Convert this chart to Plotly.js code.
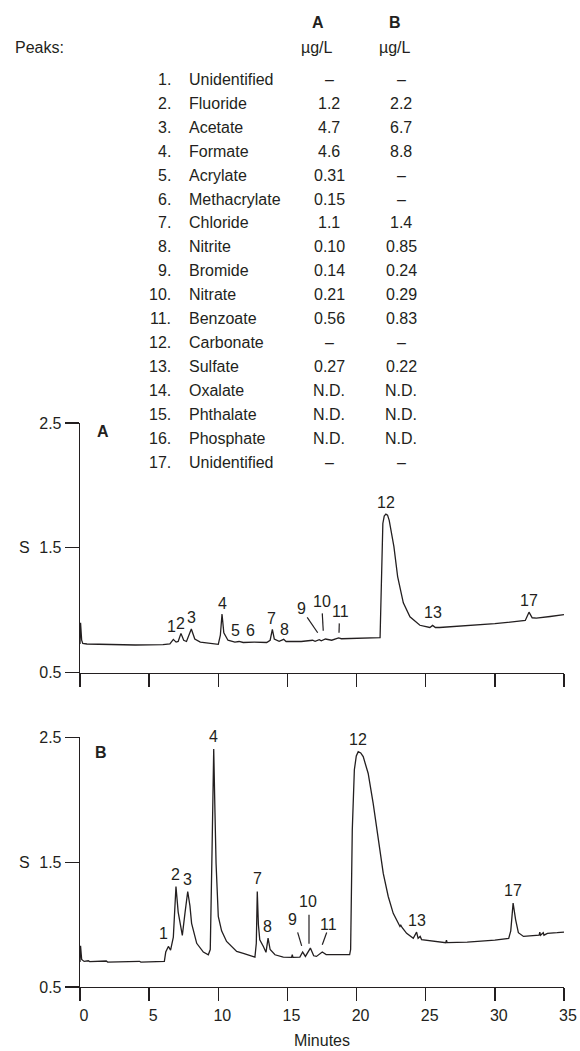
<!DOCTYPE html>
<html><head><meta charset="utf-8">
<script src="https://cdn.plot.ly/plotly-3.0.1.min.js"></script>
<style>html,body{margin:0;padding:0;background:#fff}</style>
</head><body><div id="chart" style="width:580px;height:1051px"></div>
<script>
// ---------- data ----------
const peakNumbers = ['1.','2.','3.','4.','5.','6.','7.','8.','9.','10.','11.','12.','13.','14.','15.','16.','17.'];
const peakNames = ['Unidentified','Fluoride','Acetate','Formate','Acrylate','Methacrylate','Chloride','Nitrite','Bromide','Nitrate','Benzoate','Carbonate','Sulfate','Oxalate','Phthalate','Phosphate','Unidentified'];
const amountsA = ['–','1.2','4.7','4.6','0.31','0.15','1.1','0.10','0.14','0.21','0.56','–','0.27','N.D.','N.D.','N.D.','–'];
const amountsB = ['–','2.2','6.7','8.8','–','–','1.4','0.85','0.24','0.29','0.83','–','0.22','N.D.','N.D.','N.D.','–'];

const timeA = [0.00,0.04,0.12,0.2,0.5,2,4,6,6.5,6.75,6.95,7.1,7.3,7.5,7.7,8.05,8.3,8.7,9.3,10.0,10.15,10.27,10.4,10.7,11.2,11.5,11.8,12.6,13.5,13.75,13.91,14.05,14.4,14.73,14.9,16.0,16.82,17.0,17.3,17.45,17.75,18.2,18.7,18.9,21.7,21.8,21.9,22.0,22.12,22.24,22.36,22.7,22.97,23.38,23.86,24.58,25.3,25.5,25.7,26,28,30,32.2,32.47,32.7,33,34,35];
const signalA = [0.73,0.90,0.76,0.735,0.73,0.725,0.722,0.725,0.73,0.767,0.745,0.75,0.815,0.76,0.75,0.85,0.77,0.745,0.735,0.727,0.80,0.97,0.82,0.76,0.745,0.75,0.742,0.745,0.742,0.76,0.847,0.77,0.752,0.767,0.75,0.75,0.76,0.752,0.765,0.755,0.77,0.76,0.778,0.772,0.78,1.2,1.695,1.755,1.77,1.762,1.72,1.51,1.27,1.06,0.948,0.88,0.862,0.879,0.862,0.862,0.875,0.893,0.918,0.985,0.94,0.937,0.95,0.965];

const timeB = [0,0.04,0.12,0.3,0.6,0.7,1.9,2.0,4.3,4.4,6.1,6.2,6.39,6.55,6.75,6.94,7.1,7.4,7.6,7.79,7.95,8.07,8.44,8.92,9.28,9.42,9.55,9.67,9.76,9.84,10.0,10.24,10.6,10.96,11.33,11.81,12.3,12.65,12.75,12.82,12.9,13.0,13.26,13.45,13.6,13.75,14.1,14.7,15.3,15.35,15.4,15.9,16.1,16.3,16.66,16.9,17.1,17.52,17.8,19.5,19.57,19.69,19.84,19.98,20.12,20.3,20.48,20.84,21.2,21.57,21.93,22.29,22.65,23.14,23.2,23.3,23.62,24.1,24.34,24.45,24.6,24.7,25.05,25.77,26.45,26.5,26.55,28,30,31.0,31.15,31.32,31.5,31.7,32.07,33.2,33.25,33.3,33.5,33.55,33.8,34.5,35];
const signalB = [0.70,0.83,0.72,0.705,0.71,0.703,0.708,0.70,0.706,0.70,0.705,0.78,0.825,0.795,0.9,1.305,1.1,0.913,1.1,1.265,1.15,1.01,0.85,0.78,0.758,0.8,1.6,2.406,1.9,1.49,1.065,0.95,0.865,0.825,0.785,0.77,0.75,0.74,0.85,1.265,1.0,0.878,0.825,0.778,0.892,0.8,0.758,0.74,0.737,0.76,0.737,0.74,0.78,0.745,0.812,0.75,0.745,0.78,0.76,0.76,0.8,1.758,2.24,2.35,2.385,2.375,2.345,2.21,1.97,1.678,1.41,1.225,1.09,0.985,0.995,0.975,0.93,0.89,0.94,0.89,0.905,0.88,0.875,0.86,0.855,0.875,0.855,0.86,0.875,0.89,0.95,1.172,1.04,0.935,0.905,0.915,0.94,0.915,0.935,0.915,0.93,0.935,0.94];

const xTickValues = [0,5,10,15,20,25,30,35];
const yTickValues = [0.5,1.5,2.5];

// peak labels (text) and where they sit on each panel
const labelTextA = ['1','2','3','4','5','6','7','8','9','10','11','12','13','17'];
const labelTimeA = [6.63,7.28,8.07,10.27,11.21,12.36,13.88,14.77,16.03,17.48,18.85,22.12,25.55,32.47];
const labelYA    = [0.868,0.895,0.943,1.056,0.842,0.836,0.935,0.85,1.015,1.068,0.988,1.86,0.98,1.078];
const labelTextB = ['1','2','3','4','7','8','9','10','11','12','13','17'];
const labelTimeB = [6.07,6.92,7.79,9.64,12.85,13.57,15.35,16.51,18.0,20.12,24.34,31.32];
const labelYB    = [0.926,1.398,1.364,2.51,1.372,0.985,1.044,1.185,1.004,2.48,1.03,1.27];
// leader lines [t0, y0, t1, y1]
const leadersA = [[16.43,0.943,17.19,0.82],[17.52,0.975,17.59,0.836],[18.75,0.895,18.73,0.82]];
const leadersB = [[15.74,0.937,16.03,0.83],[16.56,1.078,16.56,0.846],[17.84,0.937,17.52,0.838]];

// ---------- layout helpers ----------
const W = 580, H = 1051, L = 80, R = 16, T = 423, B = 64;
const plotW = W - L - R, plotH = H - T - B;
const px = X => (X - L) / plotW;
const py = Y => (H - B - Y) / plotH;
const ink = '#231f20';
const FONT = 'Liberation Sans, Arial, Helvetica, sans-serif';
const fs = 16;
const Y_MAX = 2.5, PX_PER_UNIT = 125;

const annotations = [];
function addText(text, X, Y, xanchor, opts) {
  annotations.push(Object.assign({
    text: text, xref: 'paper', yref: 'paper', x: px(X), y: py(Y),
    xanchor: xanchor, yanchor: 'middle', showarrow: false,
    font: {family: FONT, size: fs, color: ink}
  }, opts || {}));
}
// table header
addText('Peaks:', 13, 47.7, 'left');
addText('<b>A</b>', 318, 22.7, 'center');
addText('<b>B</b>', 395, 22.7, 'center');
addText('µg/L', 317, 47.7, 'center');
addText('µg/L', 395, 47.7, 'center');
for (let i = 0; i < peakNames.length; i++) {
  const Y = 79.3 + i * 23.95;
  addText(peakNumbers[i], 173, Y, 'right');
  addText(peakNames[i], 187, Y, 'left');
  addText(amountsA[i], 329, Y, 'center');
  addText(amountsB[i], 401, Y, 'center');
}
function dataLabel(text, xr, yr, x, y, bold) {
  // annotations outside the axis range are hidden, so clamp and shift in pixels
  const yc = Math.min(y, Y_MAX);
  annotations.push({text: bold ? '<b>' + text + '</b>' : text, xref: xr, yref: yr, x: x, y: yc,
    yshift: (y - yc) * PX_PER_UNIT, showarrow: false, font: {family: FONT, size: fs, color: ink}});
}
// panel letters
dataLabel('A', 'x', 'y', 1.63, 2.43, true);
dataLabel('B', 'x2', 'y2', 1.49, 2.377, true);
// S labels
annotations.push({text:'S', xref:'paper', yref:'y', x:px(24), y:1.5, xanchor:'center', showarrow:false, font:{family:FONT,size:fs,color:ink}});
annotations.push({text:'S', xref:'paper', yref:'y2', x:px(24), y:1.5, xanchor:'center', showarrow:false, font:{family:FONT,size:fs,color:ink}});
// peak labels
labelTextA.forEach((t, i) => dataLabel(t, 'x', 'y', labelTimeA[i], labelYA[i]));
labelTextB.forEach((t, i) => dataLabel(t, 'x2', 'y2', labelTimeB[i], labelYB[i]));

const shapes = [];
leadersA.forEach(l => shapes.push({type:'line', xref:'x', yref:'y', x0:l[0], y0:l[1], x1:l[2], y1:l[3], line:{color:ink, width:1.2}}));
leadersB.forEach(l => shapes.push({type:'line', xref:'x2', yref:'y2', x0:l[0], y0:l[1], x1:l[2], y1:l[3], line:{color:ink, width:1.2}}));

const traces = [
  {x: timeA, y: signalA, xaxis:'x', yaxis:'y', type:'scatter', mode:'lines', line:{color:ink, width:1.3}, hoverinfo:'skip'},
  {x: timeB, y: signalB, xaxis:'x2', yaxis:'y2', type:'scatter', mode:'lines', line:{color:ink, width:1.3}, hoverinfo:'skip'}
];

const axisCommon = {
  showgrid:false, zeroline:false, showline:true, linecolor:ink, linewidth:1.3,
  ticks:'outside', tickcolor:ink, tickwidth:1.3,
  tickfont:{family:FONT, size:fs, color:ink}, fixedrange:true
};
const yDomA = [py(672.7), 1];
const yDomB = [0, py(737.3)];

const layout = {
  width: W, height: H,
  margin: {l:L, r:R, t:T, b:B},
  paper_bgcolor:'#fff', plot_bgcolor:'#fff',
  showlegend:false,
  font:{family:FONT, size:fs, color:ink},
  xaxis: Object.assign({}, axisCommon, {domain:[0,1], anchor:'y', range:[0,35], tickvals:xTickValues, ticklen:13, showticklabels:false}),
  yaxis: Object.assign({}, axisCommon, {domain:yDomA, anchor:'x', range:[0.5,2.5], tickvals:yTickValues, ticktext:yTickValues.map(v=>v.toFixed(1)), ticklen:14}),
  xaxis2: Object.assign({}, axisCommon, {domain:[0,1], anchor:'y2', range:[0,35], tickvals:xTickValues, ticklen:13, ticklabelshift:4,
    title:{text:'Minutes', font:{family:FONT, size:fs, color:ink}, standoff:12}}),
  yaxis2: Object.assign({}, axisCommon, {domain:yDomB, anchor:'x2', range:[0.5,2.5], tickvals:yTickValues, ticktext:yTickValues.map(v=>v.toFixed(1)), ticklen:14}),
  annotations: annotations,
  shapes: shapes
};

Plotly.newPlot('chart', traces, layout, {displayModeBar:false, staticPlot:true});
</script>
</body></html>
